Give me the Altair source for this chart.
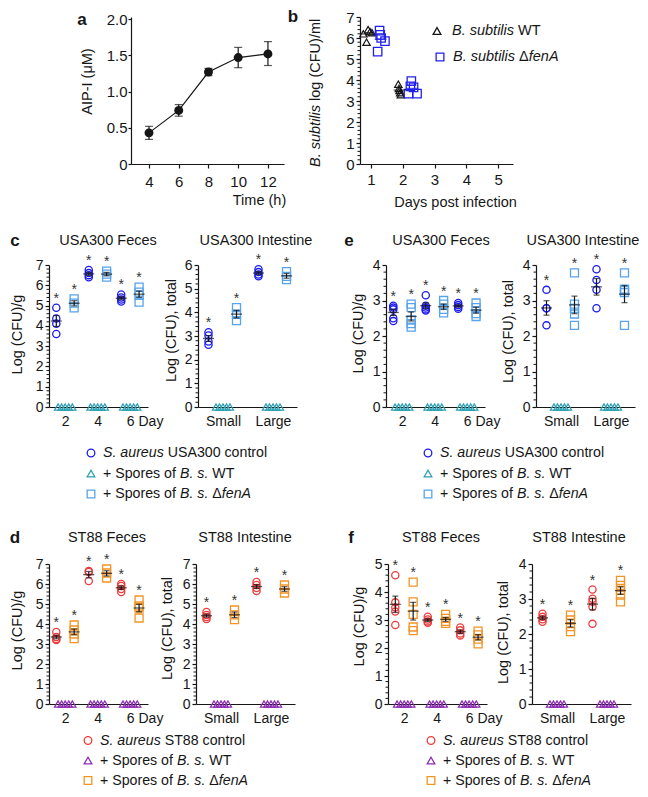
import altair as alt
import numpy as np
import pandas as pd

FONT = "Liberation Sans"
INK = "#161616"

# ---------------- data ----------------
# panel a: AIP-I over time
a_time = [4, 6, 8, 10, 12]
a_mean = [0.43, 0.74, 1.27, 1.47, 1.52]
a_low = [0.34, 0.66, 1.22, 1.33, 1.36]
a_high = [0.52, 0.82, 1.32, 1.61, 1.69]

# panel b: B. subtilis counts
b_wt_day = [1, 1, 1, 1, 1, 2, 2, 2, 2, 2]
b_wt_x = [0.76, 0.86, 0.91, 0.97, 1.03, 1.86, 1.88, 1.90, 1.92, 1.94]
b_wt_y = [6.20, 5.80, 6.40, 6.30, 6.25, 3.80, 3.60, 3.50, 3.40, 3.30]
b_fena_day = [1, 1, 1, 1, 1, 2, 2, 2, 2, 2]
b_fena_x = [1.21, 1.27, 1.29, 1.32, 1.44, 2.18, 2.24, 2.27, 2.34, 2.45]
b_fena_y = [5.35, 6.35, 6.15, 6.00, 5.85, 3.35, 3.70, 3.95, 3.65, 3.35]

feces_days = [2, 4, 6]
gut_sites = ["Small", "Large"]

feces_wt = [[0, 0, 0, 0, 0], [0, 0, 0, 0, 0], [0, 0, 0, 0, 0]]
gut_wt = [[0, 0, 0, 0, 0], [0, 0, 0, 0, 0]]

c_feces_ctrl = [[4.89, 4.36, 4.11, 3.60], [6.75, 6.60, 6.50, 6.40], [5.55, 5.40, 5.30, 5.20]]
c_feces_fena = [[5.33, 5.12, 4.89], [6.70, 6.55, 6.40], [5.91, 5.66, 5.50, 5.17]]
c_gut_ctrl = [[3.16, 3.02, 2.77, 2.63], [5.82, 5.70, 5.60, 5.52]]
c_gut_fena = [[4.20, 3.92, 3.65], [5.72, 5.52, 5.38]]

e_feces_ctrl = [[2.85, 2.80, 2.75, 2.50, 2.42], [3.15, 2.85, 2.80, 2.75, 2.72], [2.93, 2.87, 2.82, 2.77]]
e_feces_fena = [[2.90, 2.80, 2.45, 2.35, 2.25], [3.00, 2.90, 2.75, 2.65], [2.93, 2.80, 2.63, 2.55]]
e_gut_ctrl = [[3.30, 2.78, 2.78, 2.30], [3.88, 3.58, 3.30, 2.78]]
e_gut_fena = [[3.78, 2.90, 2.78, 2.62, 2.30], [3.78, 3.32, 3.28, 3.22, 2.30]]

d_feces_ctrl = [[3.60, 3.35, 3.25, 3.20], [6.65, 6.60, 6.15], [6.00, 5.90, 5.75, 5.60]]
d_feces_fena = [[3.95, 3.70, 3.50, 3.27], [6.75, 6.55, 6.30], [5.20, 4.90, 4.80, 4.30]]
d_gut_ctrl = [[4.60, 4.45, 4.35, 4.25], [6.10, 5.95, 5.80, 5.65]]
d_gut_fena = [[4.70, 4.46, 4.22], [5.95, 5.75, 5.55]]

f_feces_ctrl = [[4.60, 3.63, 3.45, 3.30, 2.82], [3.12, 3.02, 2.95, 2.90], [2.73, 2.63, 2.52, 2.45]]
f_feces_fena = [[4.35, 3.65, 3.20, 2.75, 2.62], [3.20, 3.06, 2.95, 2.88], [2.60, 2.47, 2.32, 2.15]]
f_gut_ctrl = [[2.58, 2.49, 2.42, 2.35], [3.27, 3.01, 2.92, 2.78, 2.29]]
f_gut_fena = [[2.54, 2.40, 2.21, 2.07], [3.53, 3.39, 3.25, 3.11, 2.92]]

USA_COLS = ("#1B1BF2", "#2A9FB3", "#57A3EC")   # control, WT spores, fenA spores
ST_COLS = ("#EE3B3B", "#8C2BB3", "#F39425")

# ---------------- text helpers ----------------
CW = dict(zip("ABCDEFGHIJKLMNOPQRSTUVWXYZ",
              [667, 667, 722, 722, 667, 611, 778, 722, 278, 500, 667, 556, 833,
               722, 778, 667, 778, 722, 667, 611, 722, 667, 944, 667, 667, 611]))
CW.update(zip("abcdefghijklmnopqrstuvwxyz",
              [556, 556, 500, 556, 556, 278, 556, 556, 222, 222, 500, 222, 833,
               556, 556, 556, 556, 333, 500, 278, 556, 500, 722, 500, 500, 500]))
CW.update({d: 556 for d in "0123456789"})
CW.update({" ": 278, ".": 278, ",": 278, "(": 333, ")": 333, "/": 278,
           "+": 584, "-": 333, "\u0394": 667})


def text_w(s, fs):
    return sum(CW.get(ch, 556) for ch in s) * fs / 1000.0


def seg_rows(segs, x0, y0, fs, upward=False):
    rows, pos = [], 0.0
    for t, it in segs:
        lead = len(t) - len(t.lstrip(" "))
        start = pos + text_w(t[:lead], fs)
        if upward:
            rows.append(dict(t=t.strip(" "), it=bool(it), px=x0, py=y0 - start))
        else:
            rows.append(dict(t=t.strip(" "), it=bool(it), px=x0 + start, py=y0))
        pos += text_w(t, fs)
    return rows


def text_layers(rows, fs, angle=None):
    base = alt.Chart(pd.DataFrame(rows))
    kw = dict(align="left", baseline="middle", font=FONT, fontSize=fs, color=INK)
    if angle is not None:
        kw["angle"] = angle
    enc = dict(x=alt.X("px:Q", scale=None, axis=None),
               y=alt.Y("py:Q", scale=None, axis=None), text="t:N")
    normal = base.transform_filter("!datum.it").mark_text(**kw).encode(**enc)
    ital = base.transform_filter("datum.it").mark_text(fontStyle="italic", **kw).encode(**enc)
    return [normal, ital]


def symbol_layer(rows, size=58):
    return alt.Chart(pd.DataFrame(rows)).mark_point(
        filled=False, size=size, strokeWidth=1.3, opacity=1).encode(
        x=alt.X("px:Q", scale=None, axis=None),
        y=alt.Y("py:Q", scale=None, axis=None),
        shape=alt.Shape("shape:N", scale=None),
        color=alt.Color("color:N", scale=None))


def label_layer(text, x, y, fs, bold=False):
    kw = dict(font=FONT, fontSize=fs, color=INK, baseline="middle", align="center")
    if bold:
        kw["fontWeight"] = "bold"
    return alt.Chart(pd.DataFrame({"t": [text]})).mark_text(**kw).encode(
        text="t:N", x=alt.value(x), y=alt.value(y))


def frame_layer(top, bottom):
    # invisible vertical rule that fixes the vertical extent of a row
    return alt.Chart(pd.DataFrame({"f": [0]})).mark_rule(opacity=0, strokeWidth=1).encode(
        x=alt.value(0), y=alt.value(top), y2=alt.value(bottom))


def spacer(w, h, frame=None):
    pt = (alt.Chart(pd.DataFrame({"s": [0.0]}))
          .mark_point(opacity=0, size=1)
          .encode(x=alt.X("s:Q", axis=None, scale=alt.Scale(domain=[0, 1])),
                  y=alt.Y("s:Q", axis=None, scale=alt.Scale(domain=[0, 1]))))
    if frame is not None:
        return alt.layer(pt, frame_layer(*frame)).properties(width=w, height=h)
    return pt.properties(width=w, height=h)


def minor_vals(ymax):
    return [round(i * 0.2, 2) for i in range(1, ymax * 5) if i % 5]


# ---------------- panel a ----------------
HA = 147
a_df = pd.DataFrame(dict(time=a_time, mean=a_mean, low=a_low, high=a_high))
axs = alt.Scale(domain=[2.79, 13.08], nice=False, zero=False)
ays = alt.Scale(domain=[0, 2.03], nice=False)
a_xaxis = alt.Axis(values=a_time, title="Time (h)", titleX=128, titleY=36,
                   titleAlign="center", titleBaseline="middle",
                   tickSize=4, labelPadding=6, labelFontSize=15)
a_yaxis = alt.Axis(values=[0, 0.5, 1.0, 1.5, 2.0],
                   labelExpr="datum.value == 0 ? '0' : format(datum.value, '.1f')",
                   title="AIP-I (\u03bcM)", titleX=-44, titleY=64,
                   titleAlign="center", titleBaseline="middle",
                   tickSize=3, labelPadding=1, labelFontSize=15)


def AX(f):
    return alt.X(f, scale=axs, axis=a_xaxis)


def AY(f):
    return alt.Y(f, scale=ays, axis=a_yaxis)


a_base = alt.Chart(a_df)
panel_a = alt.layer(
    a_base.mark_line(color=INK, strokeWidth=1.2).encode(x=AX("time:Q"), y=AY("mean:Q")),
    a_base.mark_rule(color=INK, strokeWidth=1.2).encode(x=AX("time:Q"), y=AY("low:Q"), y2="high:Q"),
    a_base.mark_tick(orient="horizontal", size=8, thickness=1.2, color=INK).encode(x=AX("time:Q"), y=AY("low:Q")),
    a_base.mark_tick(orient="horizontal", size=8, thickness=1.2, color=INK).encode(x=AX("time:Q"), y=AY("high:Q")),
    a_base.mark_point(filled=True, size=80, color=INK, opacity=1).encode(x=AX("time:Q"), y=AY("mean:Q")),
    label_layer("a", -49, 3, 17, bold=True),
).properties(width=153, height=HA)

# ---------------- panel b ----------------
b_rows = ([dict(x=x, y=y, s="wt", d=d) for x, y, d in zip(b_wt_x, b_wt_y, b_wt_day)] +
          [dict(x=x, y=y, s="fena", d=d) for x, y, d in zip(b_fena_x, b_fena_y, b_fena_day)])
b_df = pd.DataFrame(b_rows)
b_means = b_df.groupby(["s", "d"], as_index=False).agg(x=("x", "mean"), y=("y", "mean"))
bxs = alt.Scale(domain=[0.654, 5.47], nice=False, zero=False)
bys = alt.Scale(domain=[0, 7], nice=False)
b_xaxis = alt.Axis(values=[1, 2, 3, 4, 5], title="Days post infection", titleX=95, titleY=38,
                   titleAlign="center", titleBaseline="middle",
                   tickSize=4, labelPadding=4, labelFontSize=15)
b_yaxis = alt.Axis(values=list(range(8)), title=None, tickSize=4, labelPadding=2, labelFontSize=15)


def BX(f):
    return alt.X(f, scale=bxs, axis=b_xaxis)


def BY(f):
    return alt.Y(f, scale=bys, axis=b_yaxis)


B_BLUE = "#2020EE"
b_layers = [
    alt.Chart(b_df).transform_filter("datum.s == 'wt'").mark_point(
        shape="triangle-up", filled=False, size=55, strokeWidth=1.2, color=INK, opacity=1).encode(
        x=BX("x:Q"), y=BY("y:Q")),
    alt.Chart(b_df).transform_filter("datum.s == 'fena'").mark_point(
        shape="square", filled=False, size=70, strokeWidth=1.3, color=B_BLUE, opacity=1).encode(
        x=BX("x:Q"), y=BY("y:Q")),
    alt.Chart(b_means).transform_filter("datum.s == 'wt'").mark_tick(
        orient="horizontal", size=12, thickness=1.2, color=INK).encode(x=BX("x:Q"), y=BY("y:Q")),
    alt.Chart(b_means).transform_filter("datum.s == 'fena'").mark_tick(
        orient="horizontal", size=12, thickness=1.2, color=B_BLUE).encode(x=BX("x:Q"), y=BY("y:Q")),
    alt.Chart(pd.DataFrame({"v": minor_vals(7)})).mark_rule(color=INK, strokeWidth=1).encode(
        x=alt.value(0), x2=alt.value(-2.5), y=BY("v:Q")),
    symbol_layer([dict(px=77, py=14, shape="triangle-up", color=INK),
                  dict(px=80, py=40, shape="square", color=B_BLUE)], size=60),
]
b_layers += text_layers(seg_rows([("B. subtilis", True), (" WT", False)], 92, 14, 14.5) +
                        seg_rows([("B. subtilis", True), (" \u0394", False), ("fenA", True)], 93, 40, 14.5),
                        14.5)
b_layers += text_layers(seg_rows([("B. subtilis", True), (" log (CFU)/ml", False)], -44, 150, 14.5,
                                 upward=True), 14.5, angle=270)
b_layers.append(label_layer("b", -67, 0, 17, bold=True))
panel_b = alt.layer(*b_layers).properties(width=153, height=HA)


# ---------------- panels c-f ----------------
def group_stats(pos, groups, off):
    out = []
    for p, vals in zip(pos, groups):
        arr = np.asarray(vals, dtype=float)
        m = arr.mean()
        se = arr.std(ddof=1) / np.sqrt(arr.size)
        out.append(dict(x=p + off, m=m, lo=m - se, hi=m + se, top=arr.max()))
    return out


def strain_panel(kind, ctrl, fena, wt, ymax, cols, title, title_cx, title_y,
                 ytitle, ytitle_x, ytitle_y, H, letter=None, letter_x=0, letter_y=0, frame=None):
    W = 99
    if kind == "feces":
        pos = feces_days
        dom = [1.0, 7.1]
        oc, of = -0.55, 0.55
        jit = [-0.44, -0.22, 0.0, 0.22, 0.44]
        xaxis = alt.Axis(values=feces_days, title="Day", titleX=89, titleY=7,
                         titleAlign="left", titleBaseline="top", titleAngle=0,
                         titleFontSize=14, tickSize=0, labelPadding=7)
    else:
        pos = [1, 2]
        dom = [0.5, 2.48]
        oc, of = -0.29, 0.27
        jit = [-0.14, -0.07, 0.0, 0.07, 0.14]
        xaxis = alt.Axis(values=[1, 2], labelExpr="datum.value == 1 ? '%s' : '%s'" % tuple(gut_sites),
                         title=None, tickSize=0, labelPadding=7)
    xs = alt.Scale(domain=dom, nice=False, zero=False)
    ys = alt.Scale(domain=[0, ymax], nice=False)
    yaxis = alt.Axis(values=list(range(ymax + 1)), title=ytitle, titleX=ytitle_x, titleY=ytitle_y,
                     titleAlign="center", titleBaseline="middle", tickSize=4, labelPadding=2)

    rows = []
    for p, v in zip(pos, ctrl):
        rows += [dict(x=p + oc, y=val, s="ctrl") for val in v]
    for p, v in zip(pos, fena):
        rows += [dict(x=p + of, y=val, s="fena") for val in v]
    for p, v in zip(pos, wt):
        rows += [dict(x=p + j, y=val, s="wt") for j, val in zip(jit, v)]
    pts = alt.Chart(pd.DataFrame(rows))
    st = alt.Chart(pd.DataFrame(group_stats(pos, ctrl, oc) + group_stats(pos, fena, of)))

    def X(f):
        return alt.X(f, scale=xs, axis=xaxis)

    def Y(f):
        return alt.Y(f, scale=ys, axis=yaxis)

    layers = [
        pts.transform_filter("datum.s == 'ctrl'").mark_point(
            shape="circle", filled=False, size=52, strokeWidth=1.3, color=cols[0], opacity=1).encode(
            x=X("x:Q"), y=Y("y:Q")),
        pts.transform_filter("datum.s == 'fena'").mark_point(
            shape="square", filled=False, size=64, strokeWidth=1.3, color=cols[2], opacity=1).encode(
            x=X("x:Q"), y=Y("y:Q")),
        pts.transform_filter("datum.s == 'wt'").mark_point(
            shape="triangle-up", filled=False, size=52, strokeWidth=1.2, color=cols[1], opacity=1).encode(
            x=X("x:Q"), y=Y("y:Q")),
        alt.Chart(pd.DataFrame({"v": minor_vals(ymax)})).mark_rule(color=INK, strokeWidth=1).encode(
            x=alt.value(0), x2=alt.value(-2.5), y=Y("v:Q")),
        st.mark_rule(color=INK, strokeWidth=1.2).encode(x=X("x:Q"), y=Y("lo:Q"), y2="hi:Q"),
        st.mark_tick(orient="horizontal", size=6, thickness=1.2, color=INK).encode(x=X("x:Q"), y=Y("lo:Q")),
        st.mark_tick(orient="horizontal", size=6, thickness=1.2, color=INK).encode(x=X("x:Q"), y=Y("hi:Q")),
        st.mark_tick(orient="horizontal", size=11, thickness=1.3, color=INK).encode(x=X("x:Q"), y=Y("m:Q")),
        st.mark_text(text="*", font=FONT, fontSize=14, color="#333333", dy=-9, baseline="middle").encode(
            x=X("x:Q"), y=Y("top:Q")),
        label_layer(title, title_cx, title_y, 14.5),
    ]
    if letter:
        layers.append(label_layer(letter, letter_x, letter_y, 17, bold=True))
    if frame is not None:
        layers.append(frame_layer(*frame))
    return alt.layer(*layers).properties(width=W, height=H)


HC, HD = 142, 140
c_feces = strain_panel("feces", c_feces_ctrl, c_feces_fena, feces_wt, 7, USA_COLS, "USA300 Feces", 59, -24,
                       "Log (CFU)/g", -32, 69, HC, "c", -34, -24, frame=(-54, HC + 29))
c_gut = strain_panel("gut", c_gut_ctrl, c_gut_fena, gut_wt, 6, USA_COLS, "USA300 Intestine", 58, -24,
                     "Log (CFU), total", -27, 65, HC)
e_feces = strain_panel("feces", e_feces_ctrl, e_feces_fena, feces_wt, 4, USA_COLS, "USA300 Feces", 55, -24,
                       "Log (CFU)/g", -28, 68, HC, "e", -37, -24)
e_gut = strain_panel("gut", e_gut_ctrl, e_gut_fena, gut_wt, 4, USA_COLS, "USA300 Intestine", 47, -24,
                     "Log (CFU), total", -28, 66, HC)
d_feces = strain_panel("feces", d_feces_ctrl, d_feces_fena, feces_wt, 7, ST_COLS, "ST88 Feces", 58, -26,
                       "Log (CFU)/g", -32, 66, HD, "d", -34, -26, frame=(-61.5, HD + 29))
d_gut = strain_panel("gut", d_gut_ctrl, d_gut_fena, gut_wt, 7, ST_COLS, "ST88 Intestine", 49, -26,
                     "Log (CFU), total", -29, 64, HD)
f_feces = strain_panel("feces", f_feces_ctrl, f_feces_fena, feces_wt, 5, ST_COLS, "ST88 Feces", 53, -26,
                       "Log (CFU)/g", -29, 62, HD, "f", -37, -26)
f_gut = strain_panel("gut", f_gut_ctrl, f_gut_fena, gut_wt, 4, ST_COLS, "ST88 Intestine", 47, -26,
                     "Log (CFU), total", -29, 68, HD)


# ---------------- legends ----------------
def legend_chart(strain, cols, ys, width, height, fs=14.2):
    entries = [
        ("circle", cols[0], [("S. aureus", True), (" %s control" % strain, False)]),
        ("triangle-up", cols[1], [("+ Spores of ", False), ("B. s.", True), (" WT", False)]),
        ("square", cols[2], [("+ Spores of ", False), ("B. s.", True), (" \u0394", False), ("fenA", True)]),
    ]
    syms, txt = [], []
    for (shape, color, segs), yy in zip(entries, ys):
        syms.append(dict(px=8, py=yy, shape=shape, color=color))
        txt += seg_rows(segs, 20, yy, fs)
    return alt.layer(symbol_layer(syms), *text_layers(txt, fs)).properties(width=width, height=height)


LC_H, LD_H = 65, 55
leg_c = legend_chart("USA300", USA_COLS, [17, 37.5, 58], 200, LC_H)
leg_e = legend_chart("USA300", USA_COLS, [17, 37.5, 58], 200, LC_H)
leg_d = legend_chart("ST88", ST_COLS, [7.5, 27.5, 47.5], 200, LD_H)
leg_f = legend_chart("ST88", ST_COLS, [7.5, 27.5, 47.5], 200, LD_H)


# ---------------- assembly ----------------
def row(*charts):
    return alt.hconcat(*charts, spacing=0, bounds="flush")


row_a = row(spacer(82, HA, frame=(0, HA + 47)), panel_a, spacer(76, HA), panel_b)
row_c = row(c_feces, spacer(50, HC), c_gut, spacer(89, HC), e_feces, spacer(51, HC), e_gut)
row_lc = row(spacer(34, LC_H, frame=(0, LC_H)), leg_c, spacer(137, LC_H), leg_e)
row_d = row(d_feces, spacer(48, HD), d_gut, spacer(93, HD), f_feces, spacer(45, HD), f_gut)
row_ld = row(spacer(31, LD_H, frame=(0, LD_H)), leg_d, spacer(143, LD_H), leg_f)

chart = (
    alt.vconcat(row_a, row_c, row_lc, row_d, row_ld, spacing=0, bounds="full")
    .properties(padding=0, background="white")
    .configure_view(strokeWidth=0)
    .configure_axis(domainColor=INK, domainWidth=1.2, tickColor=INK, tickWidth=1.2,
                    labelColor=INK, titleColor=INK, labelFont=FONT, titleFont=FONT,
                    labelFontSize=14, titleFontSize=14.5, titleFontWeight="normal",
                    grid=False, labelOverlap=False)
)

chart.save("out.html", embed_options={"renderer": "svg", "actions": False})
